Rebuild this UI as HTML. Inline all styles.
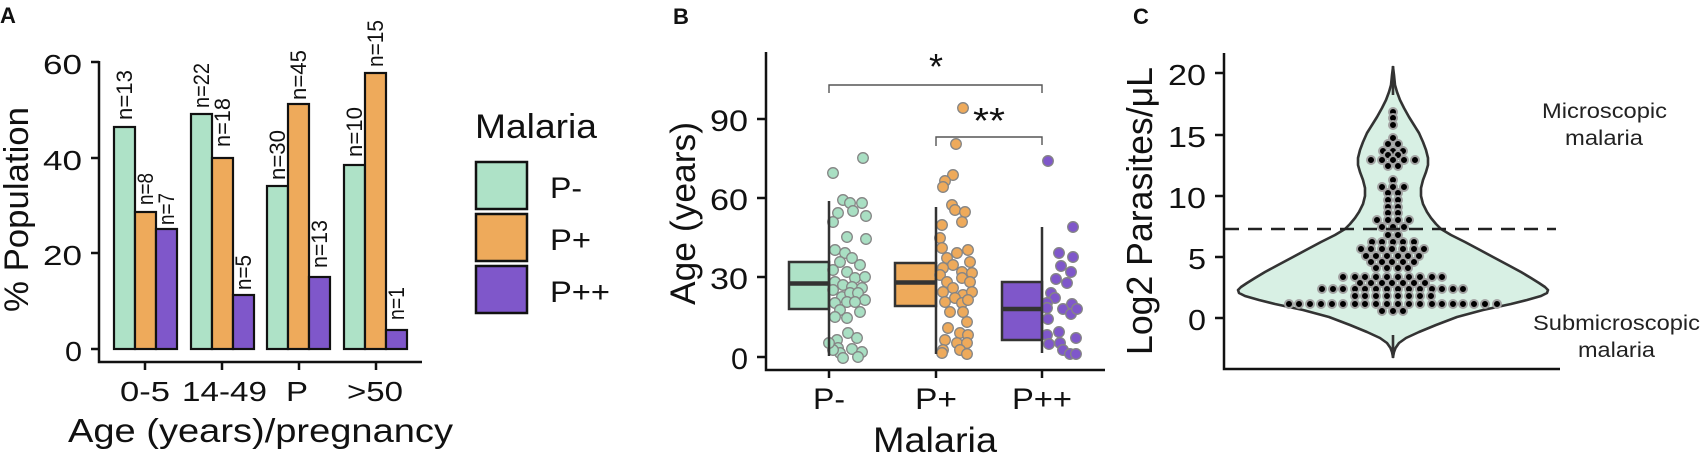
<!DOCTYPE html>
<html>
<head>
<meta charset="utf-8">
<style>
html,body{margin:0;padding:0;background:#fff;}
svg{display:block;}
text{font-family:"Liberation Sans",Arial,sans-serif;fill:#111;}
</style>
</head>
<body>
<svg width="1701" height="453" viewBox="0 0 1701 453" xmlns="http://www.w3.org/2000/svg">
<rect width="1701" height="453" fill="#fff"/>

<!-- ================= PANEL A ================= -->
<text x="0" y="23" font-size="22" font-weight="bold">A</text>

<!-- bars -->
<g stroke="#111" stroke-width="2.2">
  <rect x="114" y="127" width="21" height="222" fill="#aee2c7"/>
  <rect x="135" y="212" width="21" height="137" fill="#eeaa5b"/>
  <rect x="156" y="229" width="21" height="120" fill="#7f57ca"/>

  <rect x="191" y="114" width="21" height="235" fill="#aee2c7"/>
  <rect x="212" y="158" width="21" height="191" fill="#eeaa5b"/>
  <rect x="233" y="295" width="21" height="54" fill="#7f57ca"/>

  <rect x="267" y="186" width="21" height="163" fill="#aee2c7"/>
  <rect x="288" y="104" width="21" height="245" fill="#eeaa5b"/>
  <rect x="309" y="277" width="21" height="72" fill="#7f57ca"/>

  <rect x="344" y="165" width="21" height="184" fill="#aee2c7"/>
  <rect x="365" y="73" width="21" height="276" fill="#eeaa5b"/>
  <rect x="386" y="330" width="21" height="19" fill="#7f57ca"/>
</g>

<!-- n labels -->
<g font-size="22">
  <text transform="translate(132,120) rotate(-90)" textLength="50" lengthAdjust="spacingAndGlyphs">n=13</text>
  <text transform="translate(153,205) rotate(-90)" textLength="32" lengthAdjust="spacingAndGlyphs">n=8</text>
  <text transform="translate(174,225) rotate(-90)" textLength="32" lengthAdjust="spacingAndGlyphs">n=7</text>
  <text transform="translate(209,108) rotate(-90)" textLength="45" lengthAdjust="spacingAndGlyphs">n=22</text>
  <text transform="translate(230,147) rotate(-90)" textLength="49" lengthAdjust="spacingAndGlyphs">n=18</text>
  <text transform="translate(251,290) rotate(-90)" textLength="35" lengthAdjust="spacingAndGlyphs">n=5</text>
  <text transform="translate(285,180) rotate(-90)" textLength="50" lengthAdjust="spacingAndGlyphs">n=30</text>
  <text transform="translate(306,100) rotate(-90)" textLength="50" lengthAdjust="spacingAndGlyphs">n=45</text>
  <text transform="translate(327,268) rotate(-90)" textLength="48" lengthAdjust="spacingAndGlyphs">n=13</text>
  <text transform="translate(362,157) rotate(-90)" textLength="50" lengthAdjust="spacingAndGlyphs">n=10</text>
  <text transform="translate(383,67) rotate(-90)" textLength="47" lengthAdjust="spacingAndGlyphs">n=15</text>
  <text transform="translate(404,320) rotate(-90)" textLength="33" lengthAdjust="spacingAndGlyphs">n=1</text>
</g>

<!-- axes A -->
<g stroke="#111" stroke-width="2.5" fill="none">
  <path d="M99,61 V362 H422"/>
  <path d="M91,62 H99 M91,158 H99 M91,253 H99 M91,349 H99"/>
  <path d="M145,362 V370 M222,362 V370 M299,362 V370 M376,362 V370"/>
</g>
<g font-size="28">
  <text x="43" y="74" textLength="39" lengthAdjust="spacingAndGlyphs">60</text>
  <text x="43" y="170" textLength="39" lengthAdjust="spacingAndGlyphs">40</text>
  <text x="43" y="265" textLength="39" lengthAdjust="spacingAndGlyphs">20</text>
  <text x="65" y="361" textLength="17" lengthAdjust="spacingAndGlyphs">0</text>
  <text x="120" y="401" textLength="50" lengthAdjust="spacingAndGlyphs">0-5</text>
  <text x="182" y="401" textLength="85" lengthAdjust="spacingAndGlyphs">14-49</text>
  <text x="286" y="401" textLength="22" lengthAdjust="spacingAndGlyphs">P</text>
  <text x="347" y="401" textLength="56" lengthAdjust="spacingAndGlyphs">&gt;50</text>
</g>
<text x="68" y="442" font-size="33" textLength="385" lengthAdjust="spacingAndGlyphs">Age (years)/pregnancy</text>
<text transform="translate(28,312) rotate(-90)" font-size="34" textLength="205" lengthAdjust="spacingAndGlyphs">% Population</text>

<!-- legend -->
<text x="475" y="138" font-size="34" textLength="122" lengthAdjust="spacingAndGlyphs">Malaria</text>
<g stroke="#111" stroke-width="2.5">
  <rect x="476" y="162" width="51" height="47" fill="#aee2c7"/>
  <rect x="476" y="214" width="51" height="47" fill="#eeaa5b"/>
  <rect x="476" y="266" width="51" height="47" fill="#7f57ca"/>
</g>
<g font-size="30">
  <text x="550" y="198" textLength="32" lengthAdjust="spacingAndGlyphs">P-</text>
  <text x="550" y="250" textLength="41" lengthAdjust="spacingAndGlyphs">P+</text>
  <text x="550" y="302" textLength="60" lengthAdjust="spacingAndGlyphs">P++</text>
</g>

<!-- ================= PANEL B ================= -->
<text x="673" y="24" font-size="22" font-weight="bold">B</text>

<!-- boxes -->
<g stroke="#333" stroke-width="2.5">
  <rect x="789" y="262" width="40" height="47" fill="#aee2c7"/>
  <rect x="895" y="263" width="41" height="43" fill="#eeaa5b"/>
  <rect x="1002" y="282" width="40" height="58" fill="#7f57ca"/>
</g>
<g stroke="#333" stroke-width="4.5">
  <path d="M789,283.5 H829 M895,282.5 H936 M1002,309 H1042"/>
</g>

<!-- points P- -->
<g fill="#a9dfc3" stroke="#858585" stroke-width="1.3">
<circle cx="863" cy="158" r="5.3"/><circle cx="833" cy="173" r="5.3"/><circle cx="843" cy="200" r="5.3"/><circle cx="850" cy="203" r="5.3"/><circle cx="862" cy="203" r="5.3"/><circle cx="838" cy="213" r="5.3"/><circle cx="853" cy="211" r="5.3"/><circle cx="866" cy="216" r="5.3"/><circle cx="833" cy="222" r="5.3"/><circle cx="847" cy="237" r="5.3"/><circle cx="866" cy="239" r="5.3"/><circle cx="835" cy="250" r="5.3"/><circle cx="845" cy="253" r="5.3"/><circle cx="852" cy="258" r="5.3"/><circle cx="840" cy="262" r="5.3"/><circle cx="860" cy="265" r="5.3"/><circle cx="833" cy="270" r="5.3"/><circle cx="847" cy="272" r="5.3"/><circle cx="855" cy="278" r="5.3"/><circle cx="865" cy="277" r="5.3"/><circle cx="835" cy="282" r="5.3"/><circle cx="843" cy="285" r="5.3"/><circle cx="852" cy="287" r="5.3"/><circle cx="862" cy="288" r="5.3"/><circle cx="833" cy="290" r="5.3"/><circle cx="842" cy="297" r="5.3"/><circle cx="850" cy="293" r="5.3"/><circle cx="858" cy="293" r="5.3"/><circle cx="865" cy="300" r="5.3"/><circle cx="835" cy="303" r="5.3"/><circle cx="847" cy="302" r="5.3"/><circle cx="855" cy="302" r="5.3"/><circle cx="840" cy="310" r="5.3"/><circle cx="860" cy="312" r="5.3"/><circle cx="847" cy="318" r="5.3"/><circle cx="835" cy="317" r="5.3"/><circle cx="848" cy="333" r="5.3"/><circle cx="837" cy="340" r="5.3"/><circle cx="857" cy="338" r="5.3"/><circle cx="838" cy="348" r="5.3"/><circle cx="852" cy="349" r="5.3"/><circle cx="862" cy="352" r="5.3"/><circle cx="840" cy="353" r="5.3"/><circle cx="833" cy="350" r="5.3"/><circle cx="829" cy="343" r="5.3"/><circle cx="843" cy="358" r="5.3"/><circle cx="858" cy="357" r="5.3"/>
</g>
<!-- points P+ -->
<g fill="#eeaa5b" stroke="#858585" stroke-width="1.3">
<circle cx="963" cy="108" r="5.3"/><circle cx="956" cy="144" r="5.3"/><circle cx="953" cy="175" r="5.3"/><circle cx="945" cy="181" r="5.3"/><circle cx="943" cy="187" r="5.3"/><circle cx="952" cy="205" r="5.3"/><circle cx="955" cy="210" r="5.3"/><circle cx="965" cy="212" r="5.3"/><circle cx="962" cy="222" r="5.3"/><circle cx="942" cy="225" r="5.3"/><circle cx="940" cy="238" r="5.3"/><circle cx="942" cy="248" r="5.3"/><circle cx="957" cy="253" r="5.3"/><circle cx="968" cy="250" r="5.3"/><circle cx="947" cy="258" r="5.3"/><circle cx="953" cy="265" r="5.3"/><circle cx="970" cy="262" r="5.3"/><circle cx="943" cy="268" r="5.3"/><circle cx="962" cy="272" r="5.3"/><circle cx="940" cy="275" r="5.3"/><circle cx="972" cy="273" r="5.3"/><circle cx="947" cy="282" r="5.3"/><circle cx="962" cy="278" r="5.3"/><circle cx="970" cy="282" r="5.3"/><circle cx="953" cy="288" r="5.3"/><circle cx="943" cy="292" r="5.3"/><circle cx="963" cy="295" r="5.3"/><circle cx="972" cy="292" r="5.3"/><circle cx="955" cy="298" r="5.3"/><circle cx="945" cy="302" r="5.3"/><circle cx="962" cy="303" r="5.3"/><circle cx="968" cy="300" r="5.3"/><circle cx="950" cy="312" r="5.3"/><circle cx="963" cy="312" r="5.3"/><circle cx="967" cy="322" r="5.3"/><circle cx="948" cy="328" r="5.3"/><circle cx="960" cy="333" r="5.3"/><circle cx="968" cy="335" r="5.3"/><circle cx="945" cy="340" r="5.3"/><circle cx="957" cy="343" r="5.3"/><circle cx="967" cy="343" r="5.3"/><circle cx="943" cy="350" r="5.3"/><circle cx="960" cy="350" r="5.3"/><circle cx="967" cy="354" r="5.3"/><circle cx="942" cy="353" r="5.3"/>
</g>
<!-- points P++ -->
<g fill="#7f57ca" stroke="#858585" stroke-width="1.3">
<circle cx="1048" cy="161" r="5.3"/><circle cx="1073" cy="227" r="5.3"/><circle cx="1059" cy="253" r="5.3"/><circle cx="1073" cy="257" r="5.3"/><circle cx="1061" cy="266" r="5.3"/><circle cx="1071" cy="272" r="5.3"/><circle cx="1056" cy="279" r="5.3"/><circle cx="1067" cy="283" r="5.3"/><circle cx="1051" cy="293" r="5.3"/><circle cx="1055" cy="298" r="5.3"/><circle cx="1047" cy="303" r="5.3"/><circle cx="1047" cy="308" r="5.3"/><circle cx="1063" cy="309" r="5.3"/><circle cx="1072" cy="304" r="5.3"/><circle cx="1071" cy="314" r="5.3"/><circle cx="1077" cy="309" r="5.3"/><circle cx="1048" cy="319" r="5.3"/><circle cx="1059" cy="332" r="5.3"/><circle cx="1047" cy="335" r="5.3"/><circle cx="1076" cy="338" r="5.3"/><circle cx="1049" cy="344" r="5.3"/><circle cx="1060" cy="343" r="5.3"/><circle cx="1063" cy="350" r="5.3"/><circle cx="1070" cy="354" r="5.3"/><circle cx="1076" cy="354" r="5.3"/>
</g>

<!-- whiskers -->
<g stroke="#333" stroke-width="2.5">
  <path d="M829,201 V356 M936,207 V354 M1042,227 V353"/>
</g>

<!-- significance brackets -->
<g stroke="#555" stroke-width="1.4" fill="none">
  <path d="M829,93 V85 H1042 V93"/>
  <path d="M936,146 V137 H1042 V145"/>
</g>
<text x="936" y="79" font-size="36" text-anchor="middle">*</text>
<text x="973" y="133" font-size="36" textLength="32" lengthAdjust="spacingAndGlyphs">**</text>

<!-- axes B -->
<g stroke="#111" stroke-width="2.5" fill="none">
  <path d="M766,52 V370 H1105"/>
  <path d="M757,119 H766 M757,198 H766 M757,277 H766 M757,357 H766"/>
  <path d="M829,370 V378 M936,370 V378 M1042,370 V378"/>
</g>
<g font-size="30">
  <text x="710" y="131" textLength="38" lengthAdjust="spacingAndGlyphs">90</text>
  <text x="710" y="210" textLength="38" lengthAdjust="spacingAndGlyphs">60</text>
  <text x="710" y="289" textLength="38" lengthAdjust="spacingAndGlyphs">30</text>
  <text x="731" y="369" textLength="17" lengthAdjust="spacingAndGlyphs">0</text>
  <text x="813" y="409" textLength="32" lengthAdjust="spacingAndGlyphs">P-</text>
  <text x="915" y="409" textLength="42" lengthAdjust="spacingAndGlyphs">P+</text>
  <text x="1012" y="409" textLength="60" lengthAdjust="spacingAndGlyphs">P++</text>
</g>
<text x="873" y="452" font-size="35" textLength="124" lengthAdjust="spacingAndGlyphs">Malaria</text>
<text transform="translate(695,305) rotate(-90)" font-size="35" textLength="183" lengthAdjust="spacingAndGlyphs">Age (years)</text>

<!-- ================= PANEL C ================= -->
<text x="1133" y="24" font-size="22" font-weight="bold">C</text>

<!-- violin -->
<path fill="#d8f0e4" stroke="#333" stroke-width="2.6" stroke-linejoin="round"
d="M1393,67 L1394,75 L1395,85 L1397,92 L1400,100 L1404,108 L1409,117 L1414,125 L1419,133 L1423,142 L1426,150 L1428,158 L1428,165 L1426,172 L1423,180 L1421,188 L1421,196 L1423,204 L1427,212 L1431,218 L1436,224 L1441,229 L1451,235 L1465,242 L1480,250 L1493,257 L1508,265 L1521,272 L1531,278 L1539,283 L1545,287 L1548,290 L1547,293 L1541,296 L1527,300 L1511,304 L1483,310 L1457,317 L1436,325 L1419,332 L1406,338 L1399,343 L1395.5,348 L1394,352 L1393,357 L1392,352 L1390.5,348 L1387,343 L1380,338 L1367,332 L1350,325 L1329,317 L1303,310 L1275,304 L1259,300 L1245,296 L1239,293 L1238,290 L1241,287 L1247,283 L1255,278 L1265,272 L1278,265 L1293,257 L1306,250 L1321,242 L1335,235 L1345,229 L1350,224 L1355,218 L1359,212 L1363,204 L1365,196 L1365,188 L1363,180 L1360,172 L1358,165 L1358,158 L1360,150 L1363,142 L1367,133 L1372,125 L1377,117 L1382,108 L1386,100 L1389,92 L1391,85 L1392,75 Z"/>
<g stroke="#333" stroke-width="2.6"><path d="M1393,66 V95 M1393,335 V358"/></g>

<!-- dots -->
<g fill="#000" stroke="#a3a3a3" stroke-width="2">
<circle cx="1393" cy="112" r="4"/><circle cx="1393" cy="118" r="4"/><circle cx="1393" cy="125" r="4"/>
<circle cx="1393" cy="138" r="4"/>
<circle cx="1388" cy="144" r="4"/><circle cx="1398" cy="144" r="4"/>
<circle cx="1383" cy="151" r="4"/><circle cx="1393" cy="151" r="4"/><circle cx="1403" cy="151" r="4"/>
<circle cx="1388" cy="155" r="4"/><circle cx="1398" cy="155" r="4"/>
<circle cx="1371" cy="160" r="4"/><circle cx="1382" cy="160" r="4"/><circle cx="1393" cy="160" r="4"/><circle cx="1404" cy="160" r="4"/><circle cx="1415" cy="160" r="4"/>
<circle cx="1388" cy="166" r="4"/><circle cx="1398" cy="166" r="4"/>
<circle cx="1393" cy="180" r="4"/>
<circle cx="1382" cy="187" r="4"/><circle cx="1393" cy="187" r="4"/><circle cx="1404" cy="187" r="4"/>
<circle cx="1388" cy="193" r="4"/><circle cx="1398" cy="193" r="4"/>
<circle cx="1388" cy="200" r="4"/><circle cx="1398" cy="200" r="4"/>
<circle cx="1388" cy="207" r="4"/><circle cx="1398" cy="207" r="4"/>
<circle cx="1388" cy="213" r="4"/><circle cx="1398" cy="213" r="4"/>
<circle cx="1377" cy="220" r="4"/><circle cx="1388" cy="220" r="4"/><circle cx="1398" cy="220" r="4"/><circle cx="1409" cy="220" r="4"/>
<circle cx="1382" cy="227" r="4"/><circle cx="1393" cy="227" r="4"/><circle cx="1404" cy="227" r="4"/>
<circle cx="1388" cy="235" r="4"/><circle cx="1398" cy="235" r="4"/>
<circle cx="1372" cy="242" r="4"/><circle cx="1382" cy="242" r="4"/><circle cx="1393" cy="242" r="4"/><circle cx="1403" cy="242" r="4"/><circle cx="1414" cy="242" r="4"/>
<circle cx="1361" cy="249" r="4"/><circle cx="1371" cy="249" r="4"/><circle cx="1382" cy="249" r="4"/><circle cx="1392" cy="249" r="4"/><circle cx="1403" cy="249" r="4"/><circle cx="1414" cy="249" r="4"/><circle cx="1424" cy="249" r="4"/>
<circle cx="1366" cy="256" r="4"/><circle cx="1376" cy="256" r="4"/><circle cx="1387" cy="256" r="4"/><circle cx="1398" cy="256" r="4"/><circle cx="1408" cy="256" r="4"/><circle cx="1419" cy="256" r="4"/>
<circle cx="1371" cy="262" r="4"/><circle cx="1382" cy="262" r="4"/><circle cx="1392" cy="262" r="4"/><circle cx="1403" cy="262" r="4"/><circle cx="1414" cy="262" r="4"/>
<circle cx="1376" cy="268" r="4"/><circle cx="1387" cy="268" r="4"/><circle cx="1398" cy="268" r="4"/><circle cx="1408" cy="268" r="4"/>
<circle cx="1343" cy="277" r="4"/><circle cx="1355" cy="277" r="4"/><circle cx="1365" cy="277" r="4"/><circle cx="1376" cy="277" r="4"/><circle cx="1387" cy="277" r="4"/><circle cx="1398" cy="277" r="4"/><circle cx="1409" cy="277" r="4"/><circle cx="1420" cy="277" r="4"/><circle cx="1432" cy="277" r="4"/><circle cx="1442" cy="277" r="4"/>
<circle cx="1360" cy="283" r="4"/><circle cx="1371" cy="283" r="4"/><circle cx="1382" cy="283" r="4"/><circle cx="1392" cy="283" r="4"/><circle cx="1403" cy="283" r="4"/><circle cx="1414" cy="283" r="4"/><circle cx="1425" cy="283" r="4"/>
<circle cx="1322" cy="289" r="4"/><circle cx="1333" cy="289" r="4"/><circle cx="1343" cy="289" r="4"/><circle cx="1355" cy="289" r="4"/><circle cx="1365" cy="289" r="4"/><circle cx="1376" cy="289" r="4"/><circle cx="1387" cy="289" r="4"/><circle cx="1398" cy="289" r="4"/><circle cx="1409" cy="289" r="4"/><circle cx="1420" cy="289" r="4"/><circle cx="1432" cy="289" r="4"/><circle cx="1442" cy="289" r="4"/><circle cx="1453" cy="289" r="4"/><circle cx="1463" cy="289" r="4"/>
<circle cx="1355" cy="296" r="4"/><circle cx="1365" cy="296" r="4"/><circle cx="1376" cy="296" r="4"/><circle cx="1387" cy="296" r="4"/><circle cx="1398" cy="296" r="4"/><circle cx="1409" cy="296" r="4"/><circle cx="1420" cy="296" r="4"/><circle cx="1431" cy="296" r="4"/>
<circle cx="1289" cy="304" r="4"/><circle cx="1299" cy="304" r="4"/><circle cx="1310" cy="304" r="4"/><circle cx="1321" cy="304" r="4"/><circle cx="1332" cy="304" r="4"/><circle cx="1343" cy="304" r="4"/><circle cx="1355" cy="304" r="4"/><circle cx="1365" cy="304" r="4"/><circle cx="1376" cy="304" r="4"/><circle cx="1387" cy="304" r="4"/><circle cx="1398" cy="304" r="4"/><circle cx="1409" cy="304" r="4"/><circle cx="1420" cy="304" r="4"/><circle cx="1432" cy="304" r="4"/><circle cx="1442" cy="304" r="4"/><circle cx="1453" cy="304" r="4"/><circle cx="1463" cy="304" r="4"/><circle cx="1474" cy="304" r="4"/><circle cx="1485" cy="304" r="4"/><circle cx="1497" cy="304" r="4"/>
<circle cx="1382" cy="311" r="4"/><circle cx="1393" cy="311" r="4"/><circle cx="1403" cy="311" r="4"/>
</g>

<!-- dashed threshold -->
<path d="M1225,229 H1556" stroke="#222" stroke-width="2.6" stroke-dasharray="14 9" fill="none"/>

<!-- axes C -->
<g stroke="#111" stroke-width="2.5" fill="none">
  <path d="M1224,53 V369 H1560"/>
  <path d="M1215,73 H1224 M1215,135 H1224 M1215,196 H1224 M1215,257 H1224 M1215,318 H1224"/>
</g>
<g font-size="29">
  <text x="1168" y="85" textLength="38" lengthAdjust="spacingAndGlyphs">20</text>
  <text x="1168" y="147" textLength="38" lengthAdjust="spacingAndGlyphs">15</text>
  <text x="1168" y="208" textLength="38" lengthAdjust="spacingAndGlyphs">10</text>
  <text x="1188" y="269" textLength="18" lengthAdjust="spacingAndGlyphs">5</text>
  <text x="1188" y="330" textLength="18" lengthAdjust="spacingAndGlyphs">0</text>
</g>
<text transform="translate(1152,355) rotate(-90)" font-size="36" textLength="288" lengthAdjust="spacingAndGlyphs">Log2 Parasites/μL</text>

<g font-size="21" style="fill:#222">
  <text x="1542" y="118" textLength="125" lengthAdjust="spacingAndGlyphs" style="fill:#222">Microscopic</text>
  <text x="1565" y="145" textLength="78" lengthAdjust="spacingAndGlyphs" style="fill:#222">malaria</text>
  <text x="1533" y="330" textLength="167" lengthAdjust="spacingAndGlyphs" style="fill:#222">Submicroscopic</text>
  <text x="1578" y="357" textLength="77" lengthAdjust="spacingAndGlyphs" style="fill:#222">malaria</text>
</g>
</svg>
</body>
</html>
